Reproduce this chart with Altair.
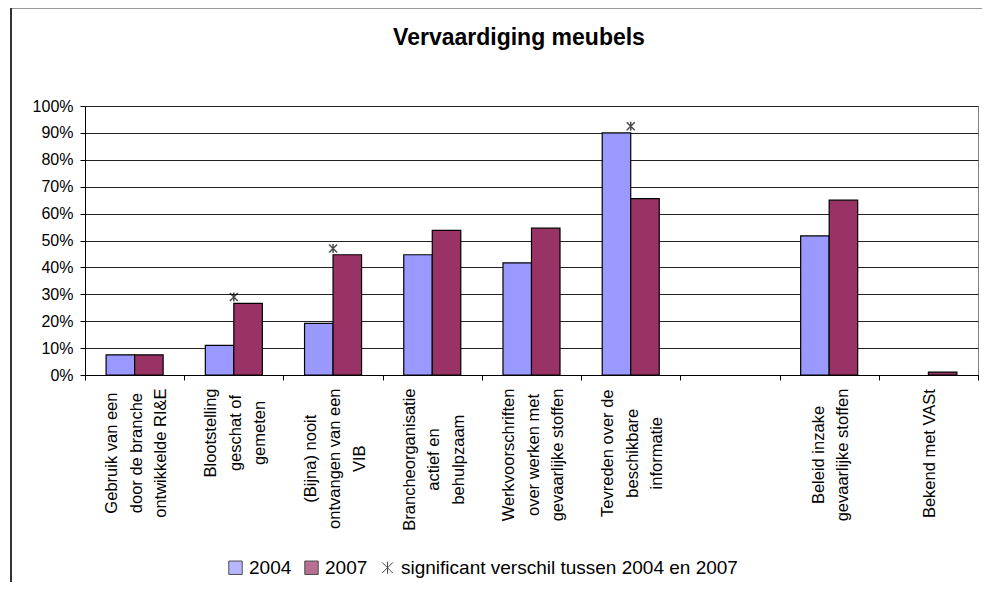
import json
import altair as alt
import pandas as pd

# ---------------- data ----------------
categories = [
    "Gebruik van een\ndoor de branche\nontwikkelde RI&E",
    "Blootstelling\ngeschat of\ngemeten",
    "(Bijna) nooit\nontvangen van een\nVIB",
    "Brancheorganisatie\nactief en\nbehulpzaam",
    "Werkvoorschriften\nover werken met\ngevaarlijke stoffen",
    "Tevreden over de\nbeschikbare\ninformatie",
    " ",
    "Beleid inzake\ngevaarlijke stoffen",
    "Bekend met VASt",
]
values_2004 = [7.5, 11.0, 19.2, 44.7, 41.7, 90.0, None, 51.7, None]
values_2007 = [7.5, 26.6, 44.7, 53.8, 54.6, 65.6, None, 65.0, 1.1]
significant = [None, 29.0, 47.0, None, None, 92.5, None, None, None]

series_names = ["2004", "2007", "significant verschil tussen 2004 en 2007"]
y_ticks = [0, 10, 20, 30, 40, 50, 60, 70, 80, 90, 100]
title_text = "Vervaardiging meubels"

# ---------------- tables ----------------
rows = []
for cat, a, b, s in zip(categories, values_2004, values_2007, significant):
    if a is not None:
        rows.append({"category": cat, "series": series_names[0], "value": a})
    if b is not None:
        rows.append({"category": cat, "series": series_names[1], "value": b})
    if s is not None:
        rows.append({"category": cat, "series": series_names[2], "value": s})
df = pd.DataFrame(rows)

BLUE = "#9999FF"
RED = "#993366"
STAR = "M-0.8,-0.8L0.8,0.8M0.8,-0.8L-0.8,0.8M0,-0.9L0,0.9"
FONT = "Liberation Sans"
XFS = 16.5   # x label font size
XLH = 24.5   # x label line height

# Arial / Liberation Sans advance widths (em) to centre the label blocks
W = {" ": .278, "(": .333, ")": .333, "&": .667, "E": .667, "I": .278, "R": .722,
     "G": .778, "B": .667, "V": .667, "W": .944, "T": .611, "S": .667, "A": .667,
     "a": .556, "b": .556, "c": .5, "d": .556, "e": .556, "f": .278, "g": .556,
     "h": .556, "i": .222, "j": .222, "k": .5, "l": .222, "m": .833, "n": .556,
     "o": .556, "p": .556, "r": .333, "s": .5, "t": .278, "u": .556, "v": .5,
     "w": .722, "z": .5}


def text_w(s):
    return sum(W.get(ch, .556) for ch in s) * XFS


pad_conds, off_conds = [], []
for cat in categories:
    lines = cat.split("\n")
    longest = max(text_w(l) for l in lines)
    test = "datum.value === " + json.dumps(cat)
    pad_conds.append({"test": test, "value": round(8 + longest / 2, 1)})
    off_conds.append({"test": test, "value": round(1.5 - (len(lines) - 1) * XLH / 2, 2)})

legend = alt.Legend(
    orient="none", legendX=141, legendY=452, direction="horizontal", title=None,
    labelFont=FONT, labelFontSize=19, labelColor="black", labelLimit=0,
    symbolSize=180, symbolStrokeColor="black", symbolStrokeWidth=1,
    columnPadding=10, labelOffset=4, padding=0,
)

color = alt.Color(
    "series:N",
    scale=alt.Scale(domain=series_names, range=[BLUE, RED, "black"]),
    legend=legend,
)

x_enc = alt.X(
    "category:N",
    sort=categories,
    scale=alt.Scale(domain=categories, paddingInner=0, paddingOuter=0),
    axis=alt.Axis(
        title=None, labelAngle=270, labelAlign="center", labelBaseline="middle",
        labelExpr="split(datum.label, '\\n')", labelLineHeight=XLH,
        labelFont=FONT, labelFontSize=XFS, labelColor="black",
        labelPadding={"condition": pad_conds, "value": 8},
        labelOffset={"condition": off_conds, "value": 0},
        labelLimit=0, tickBand="extent", tickSize=5, tickColor="black",
        domainColor="black", grid=False,
    ),
)
y_enc = alt.Y(
    "value:Q",
    scale=alt.Scale(domain=[0, 100], nice=False),
    axis=alt.Axis(
        title=None, values=y_ticks, labelExpr="datum.value + '%'",
        labelFont=FONT, labelFontSize=16, labelColor="black", labelPadding=7,
        tickSize=5, tickColor="black", domainColor="black",
        grid=True, gridColor="#222222", gridWidth=1,
    ),
)

base = alt.Chart(df)

bars = base.transform_filter(
    alt.FieldOneOfPredicate(field="series", oneOf=series_names[:2])
).mark_bar(stroke="black", strokeWidth=1.2).encode(
    x=x_enc,
    xOffset=alt.XOffset(
        "series:N",
        scale=alt.Scale(domain=series_names[:2], paddingOuter=0.74, paddingInner=0),
    ),
    y=y_enc,
    color=color,
)

stars = base.transform_filter(
    alt.FieldEqualPredicate(field="series", equal=series_names[2])
).mark_point(filled=True, stroke="black", strokeWidth=1.5, size=100).encode(
    x=x_enc,
    y=y_enc,
    color=color,
    shape=alt.Shape(
        "series:N",
        scale=alt.Scale(domain=series_names, range=["square", "square", STAR]),
        legend=legend,
    ),
)

one = pd.DataFrame({"t": [title_text]})
title = alt.Chart(one).mark_text(
    font=FONT, fontSize=23, fontWeight="bold", color="black",
    align="center", baseline="alphabetic",
).encode(text="t:N", x=alt.value(434), y=alt.value(-61))

frame_v = alt.Chart(one).mark_rule(color="#333333", strokeWidth=2).encode(
    x=alt.value(-74), y=alt.value(-98.5), y2=alt.value(600)
)
frame_h = alt.Chart(one).mark_rule(color="#333333", strokeWidth=2).encode(
    x=alt.value(-74), x2=alt.value(1000), y=alt.value(-98.5)
)

chart = alt.layer(bars, stars, title, frame_v, frame_h).properties(
    width=893, height=269,
    padding={"left": 77, "top": 98, "right": 4, "bottom": 207},
    autosize=alt.AutoSizeParams(type="none"),
    background="white",
).configure_view(stroke="#808080", strokeWidth=1)

chart.save("out.html", embed_options={"renderer": "svg", "actions": False})
